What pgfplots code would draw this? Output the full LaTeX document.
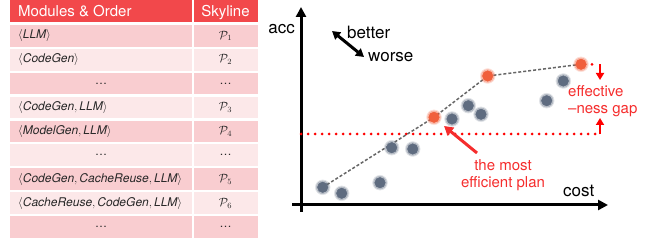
\documentclass[border=0pt]{standalone}
\usepackage{pgfplots}
\usepackage{pgfplotstable}
\pgfplotsset{compat=1.18}
\usepackage{fontspec}
\setmainfont{TeX Gyre Heros}
\usetikzlibrary{arrows.meta}
\definecolor{hdr}{RGB}{242,72,75}
\definecolor{rowA}{RGB}{249,205,208}
\definecolor{rowB}{RGB}{252,232,233}
\definecolor{dotgray}{RGB}{95,108,128}
\definecolor{dotorange}{RGB}{240,95,60}
\definecolor{gapred}{RGB}{255,0,0}
\definecolor{annred}{RGB}{245,45,45}
\definecolor{tabtext}{RGB}{40,40,40}

% plans: cost (x) and accuracy (y), in pixel offsets from the origin
\pgfplotstableread{
x y
21.7 17.7
40.7 11.7
79.0 22.3
90.7 57.3
111.7 56.0
151.0 86.0
167.3 99.3
180.0 90.7
245.7 104.3
262.3 124.0
}\grayplans
\pgfplotstableread{
x y
133.0 87.7
186.7 129.0
280.0 140.7
}\skyline
\pgfplotstableread{
x y
21.7 17.7
133.0 87.7
186.7 129.0
280.0 140.7
}\frontier

\begin{document}
\begin{tikzpicture}
% ---------------- table ----------------
\begin{scope}[x=1pt,y=-1pt,yshift=243pt]
  \fill[hdr] (10,0) rectangle (258,22.5);
  \foreach \i in {1,...,9}{
    \pgfmathsetmacro{\top}{25+(\i-1)*23.9}
    \pgfmathsetmacro{\bot}{\top+21.7}
    \ifodd\i
      \fill[rowA] (10,\top) rectangle (258,\bot);
    \else
      \fill[rowB] (10,\top) rectangle (258,\bot);
    \fi
  }
  \fill[white] (192.3,0) rectangle (193.8,243);
  \node[anchor=base west, text=white, inner sep=0pt, font=\fontsize{15}{18}\selectfont] at (18,17) {Modules \& Order};
  \node[anchor=base, text=white, inner sep=0pt, font=\fontsize{15}{18}\selectfont] at (225.5,17) {Skyline};
  \def\rowy#1{\fpeval{25+(#1-1)*23.9+10.85}}
  \begin{scope}[every node/.style={text=tabtext, inner sep=0pt, font=\fontsize{12}{14}\selectfont}]
  \node[anchor=west] at (18,{\rowy{1}}) {$\langle\mathit{LLM}\rangle$};
  \node[anchor=west] at (18,{\rowy{2}}) {$\langle\mathit{CodeGen}\rangle$};
  \node at (101,{\rowy{3}}) {\ldots};
  \node[anchor=west] at (18,{\rowy{4}}) {$\langle\mathit{CodeGen}, \mathit{LLM}\rangle$};
  \node[anchor=west] at (18,{\rowy{5}}) {$\langle\mathit{ModelGen}, \mathit{LLM}\rangle$};
  \node at (101,{\rowy{6}}) {\ldots};
  \node[anchor=west] at (18,{\rowy{7}}) {$\langle\mathit{CodeGen}, \mathit{CacheReuse}, \mathit{LLM}\rangle$};
  \node[anchor=west] at (18,{\rowy{8}}) {$\langle\mathit{CacheReuse}, \mathit{CodeGen}, \mathit{LLM}\rangle$};
  \node at (101,{\rowy{9}}) {\ldots};
  \node at (225.5,{\rowy{1}}) {$\mathcal{P}_1$};
  \node at (225.5,{\rowy{2}}) {$\mathcal{P}_2$};
  \node at (225.5,{\rowy{3}}) {\ldots};
  \node at (225.5,{\rowy{4}}) {$\mathcal{P}_3$};
  \node at (225.5,{\rowy{5}}) {$\mathcal{P}_4$};
  \node at (225.5,{\rowy{6}}) {\ldots};
  \node at (225.5,{\rowy{7}}) {$\mathcal{P}_5$};
  \node at (225.5,{\rowy{8}}) {$\mathcal{P}_6$};
  \node at (225.5,{\rowy{9}}) {\ldots};
  \end{scope}
\end{scope}

% ---------------- chart ----------------
\begin{axis}[at={(0pt,0pt)}, anchor=south west, scale only axis,
  width=655pt, height=243pt, xmin=-301, xmax=354, ymin=-38, ymax=205,
  hide axis, clip=false]
  % axes
  \draw[line width=3pt, -{Triangle[length=10pt,width=10pt]}] (axis cs:-9,0) -- (axis cs:307,0);
  \draw[line width=3pt, -{Triangle[length=10pt,width=10pt]}] (axis cs:0,-7) -- (axis cs:0,198);
  % effectiveness gap lines
  \addplot[gapred, line width=3pt, dash pattern=on 0pt off 7pt, line cap=round] coordinates {(0,71) (296,71)};
  \addplot[gapred, line width=3pt, dash pattern=on 0pt off 7pt, line cap=round] coordinates {(284,140.7) (297,140.7)};
  \draw[gapred, line width=2.5pt, -{Triangle[length=7pt,width=8pt]}] (axis cs:299,140.5) -- (axis cs:299,125);
  \draw[gapred, line width=2.5pt, -{Triangle[length=7pt,width=8pt]}] (axis cs:299,70.5) -- (axis cs:299,87);
  % frontier
  \addplot[gray!80!black, dash pattern=on 3pt off 2pt, line width=1.5pt] table {\frontier};
  % plans (with soft halo)
  \addplot[only marks, mark=*, mark size=7.5pt, dotgray, opacity=0.15, mark options={draw=none}] table {\grayplans};
  \addplot[only marks, mark=*, mark size=6.5pt, dotgray, opacity=0.3, mark options={draw=none}] table {\grayplans};
  \addplot[only marks, mark=*, mark size=5.3pt, dotgray, mark options={draw=none}] table {\grayplans};
  \addplot[only marks, mark=*, mark size=7.5pt, dotorange, opacity=0.15, mark options={draw=none}] table {\skyline};
  \addplot[only marks, mark=*, mark size=6.5pt, dotorange, opacity=0.3, mark options={draw=none}] table {\skyline};
  \addplot[only marks, mark=*, mark size=5.3pt, dotorange, mark options={draw=none}] table {\skyline};
  % annotation arrow
  \draw[annred, line width=3pt, -{Triangle[length=9pt,width=10pt]}] (axis cs:176,52) -- (axis cs:143,79);
  % better / worse
  \draw[line width=3pt, {Triangle[length=8pt,width=9pt]}-{Triangle[length=8pt,width=9pt]}] (axis cs:31,174) -- (axis cs:63,148);
  % texts
  \node[anchor=base east, inner sep=0pt, font=\fontsize{17}{20}\selectfont] at (axis cs:-6,171) {acc};
  \node[anchor=base west, inner sep=0pt, font=\fontsize{17}{20}\selectfont] at (axis cs:46,166) {better};
  \node[anchor=base west, inner sep=0pt, font=\fontsize{17}{20}\selectfont] at (axis cs:67,143) {worse};
  \node[anchor=base west, inner sep=0pt, font=\fontsize{17}{20}\selectfont] at (axis cs:262,8) {cost};
  \node[anchor=base west, inner sep=0pt, text=annred, font=\fontsize{15}{18}\selectfont] at (axis cs:267,108) {effective};
  \node[anchor=base west, inner sep=0pt, text=annred, font=\fontsize{15}{18}\selectfont] at (axis cs:267,91) {–ness gap};
  \node[anchor=base, inner sep=0pt, text=annred, font=\fontsize{15}{18}\selectfont] at (axis cs:202,34) {the most};
  \node[anchor=base, inner sep=0pt, text=annred, font=\fontsize{15}{18}\selectfont] at (axis cs:202,17) {efficient plan};
\end{axis}
\pgfresetboundingbox
\useasboundingbox (0,0) rectangle (655pt,243pt);
\end{tikzpicture}
\end{document}
